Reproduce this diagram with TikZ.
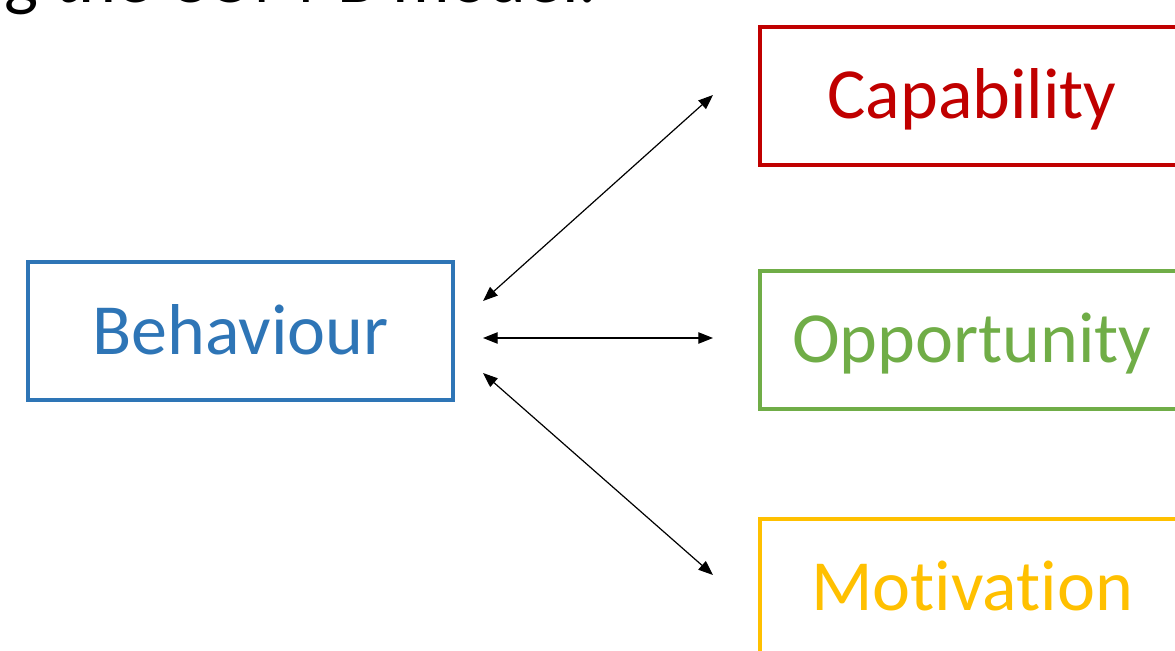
\documentclass[tikz,border=0pt]{standalone}
\usepackage{fontspec}
\setmainfont{Carlito}[Ligatures={NoCommon}]
\usepackage{xcolor}
\definecolor{ComBlue}{HTML}{2E75B6}
\definecolor{ComRed}{HTML}{C00000}
\definecolor{ComGreen}{HTML}{70AD47}
\definecolor{ComGold}{HTML}{FFC000}
\usetikzlibrary{calc, positioning, arrows.meta}

\begin{document}
\begin{tikzpicture}[
    x=0.75pt, y=-0.75pt,
    big_text/.style={font=\fontsize{54}{64}\selectfont},
    com_box/.style={draw, line width=3pt, minimum width=318.75pt, minimum height=103.5pt, inner sep=0pt, text height=34.8pt, text depth=0pt, big_text},
    link/.style={{Triangle[length=11pt,width=8.5pt]}-{Triangle[length=11pt,width=8.5pt]}, black, line width=0.9pt}
]

    % 1. PAGE FRAME
    \useasboundingbox (0,0) rectangle (1175,650);
    \clip (0,0) rectangle (1175,650);

    % --- title, cut at the top of the slide ---
    \node[big_text, anchor=base west, inner sep=0pt] (title) at (4,2) {g the COM-B model.};

    % 2. BEHAVIOUR (Left)
    \node[com_box, draw=ComBlue, text=ComBlue] (behaviour) at (240.5,331) {Behaviour};

    % 3. COM COMPONENTS (Right)
    \node[com_box, draw=ComRed, text=ComRed] (capability) at (972,95.5) {Capability};
    \node[com_box, draw=ComGreen, text=ComGreen] (opportunity) at (972,339.5) {Opportunity};
    \node[com_box, draw=ComGold, text=ComGold] (motivation) at (972,587.5) {Motivation};

    % 4. LINKS
    \coordinate (b_cap) at (483,301);
    \coordinate (b_opp) at (483,338);
    \coordinate (b_mot) at (483,373);
    \coordinate (cap_in) at (713,95);
    \coordinate (opp_in) at (713,338);
    \coordinate (mot_in) at (713,575);

    \draw[link] (b_cap) -- (cap_in);
    \draw[link] (b_opp) -- (opp_in);
    \draw[link] (b_mot) -- (mot_in);

\end{tikzpicture}
\end{document}
